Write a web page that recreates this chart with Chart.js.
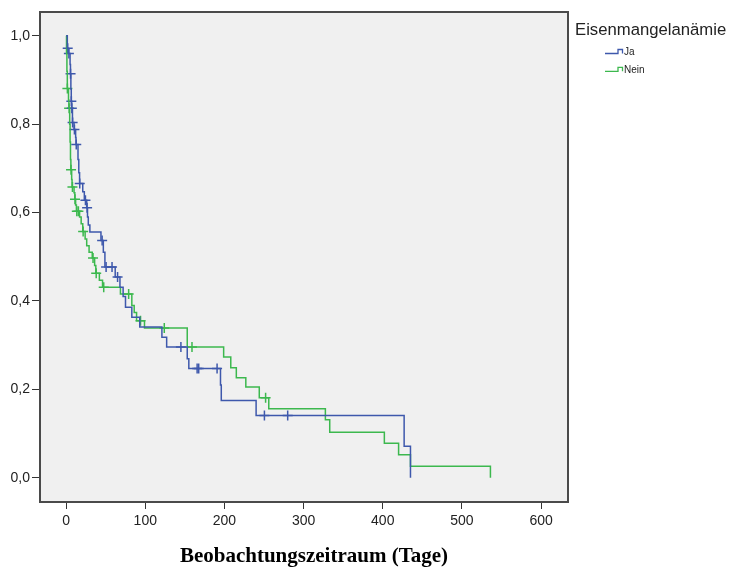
<!DOCTYPE html>
<html>
<head>
<meta charset="utf-8">
<script src="https://cdn.jsdelivr.net/npm/chart.js@4.4.0/dist/chart.umd.min.js"></script>
<style>
html, body { margin:0; padding:0; background:#fff; }
#chart { display:block; }
</style>
</head>
<body>
<canvas id="chart" width="729" height="571"></canvas>
<script>
// Kaplan-Meier Werte
const jaTime = [0, 1.5, 3, 5, 5.5, 6, 6.5, 7, 8, 10, 12, 12.5, 15, 16, 17, 21, 23, 26, 27, 28, 30, 44, 47, 49, 62, 68, 72, 75, 83, 93, 121, 127, 153, 155, 195, 196, 240, 427, 435];
const jaSurv = [1.0, 0.972, 0.96, 0.935, 0.914, 0.88, 0.852, 0.836, 0.804, 0.788, 0.77, 0.754, 0.72, 0.69, 0.666, 0.647, 0.628, 0.611, 0.59, 0.572, 0.556, 0.537, 0.51, 0.477, 0.454, 0.431, 0.41, 0.386, 0.363, 0.341, 0.318, 0.296, 0.269, 0.247, 0.21, 0.175, 0.141, 0.071, 0.0];
const jaCensTime = [2, 3.5, 5.6, 6.6, 7.2, 8.2, 10.5, 12.8, 17.2, 24.4, 26.5, 45.5, 50.5, 58, 65, 145, 165.5, 167.5, 190.7, 250.5, 279.9];
const jaCensSurv = [0.972, 0.96, 0.914, 0.852, 0.836, 0.804, 0.788, 0.754, 0.666, 0.628, 0.611, 0.537, 0.477, 0.477, 0.454, 0.296, 0.247, 0.247, 0.247, 0.141, 0.141];

const neinTime = [0, 0.5, 1, 1.5, 3, 3.5, 4.5, 5, 5.5, 6, 7, 7.5, 10, 11, 12, 13, 17, 19, 21, 24, 26, 29, 33, 36, 37.5, 42, 46, 68.6, 83, 86, 89, 99, 153, 199, 208, 215, 227, 244, 256, 327.5, 333, 402, 420, 435, 536];
const neinSurv = [1.0, 0.96, 0.92, 0.881, 0.855, 0.836, 0.8, 0.76, 0.72, 0.697, 0.675, 0.658, 0.645, 0.63, 0.617, 0.603, 0.59, 0.575, 0.557, 0.54, 0.525, 0.51, 0.497, 0.48, 0.463, 0.447, 0.431, 0.416, 0.39, 0.374, 0.355, 0.339, 0.296, 0.273, 0.249, 0.226, 0.205, 0.181, 0.156, 0.131, 0.103, 0.078, 0.052, 0.026, 0.0];
const neinCensTime = [1.6, 3.8, 6.2, 8, 11.2, 13.5, 15.5, 21.5, 34, 38, 47.5, 79, 94, 124, 159, 252];
const neinCensSurv = [0.881, 0.836, 0.697, 0.658, 0.63, 0.603, 0.603, 0.557, 0.497, 0.463, 0.431, 0.416, 0.355, 0.339, 0.296, 0.181];

const xTicks = [0, 100, 200, 300, 400, 500, 600];
const yTicks = [0, 0.2, 0.4, 0.6, 0.8, 1.0];
const groupNames = ['Ja', 'Nein'];
const legendTitle = 'Eisenmangelanämie';
const xTitle = 'Beobachtungszeitraum (Tage)';

const jaColor = '#3e58ac';
const neinColor = '#3cb84e';

function toPoints(xs, ys) {
  return xs.map((x, i) => ({x: x, y: ys[i]}));
}

const framePlugin = {
  id: 'frame',
  beforeDraw(chart) {
    const a = chart.chartArea, ctx = chart.ctx;
    ctx.save();
    ctx.fillStyle = '#f0f0f0';
    ctx.fillRect(a.left, a.top, a.right - a.left, a.bottom - a.top);
    ctx.restore();
  },
  afterDraw(chart) {
    const a = chart.chartArea, ctx = chart.ctx;
    ctx.save();
    ctx.strokeStyle = '#4a4a4a';
    ctx.lineWidth = 2;
    ctx.strokeRect(a.left, a.top, a.right - a.left, a.bottom - a.top);

    // x axis title
    ctx.fillStyle = '#000';
    ctx.font = 'bold 21px "Liberation Serif"';
    ctx.textAlign = 'center';
    ctx.textBaseline = 'middle';
    ctx.fillText(xTitle, 314, 557);

    // legend
    ctx.textAlign = 'left';
    ctx.fillStyle = '#222';
    ctx.font = '16.7px "Liberation Sans"';
    ctx.fillText(legendTitle, 575, 30.5);
    const cols = [jaColor, neinColor];
    ctx.font = '10px "Liberation Sans"';
    groupNames.forEach((name, i) => {
      const y = 51.5 + i * 17.8;
      ctx.strokeStyle = cols[i];
      ctx.lineWidth = 1.3;
      ctx.beginPath();
      ctx.moveTo(605, y + 2);
      ctx.lineTo(618, y + 2);
      ctx.lineTo(618, y - 2);
      ctx.lineTo(622.5, y - 2);
      ctx.lineTo(622.5, y + 2);
      ctx.stroke();
      ctx.fillStyle = '#222';
      ctx.fillText(name, 624, y + 0.5);
    });
    ctx.restore();
  }
};

const tickFont = {family: 'Liberation Sans', size: 14};

new Chart(document.getElementById('chart'), {
  type: 'line',
  data: {
    datasets: [
      {
        label: groupNames[0],
        data: toPoints(jaTime, jaSurv),
        stepped: true,
        borderColor: jaColor,
        borderWidth: 1.5,
        pointRadius: 0,
        fill: false
      },
      {
        label: groupNames[1],
        data: toPoints(neinTime, neinSurv),
        stepped: true,
        borderColor: neinColor,
        borderWidth: 1.5,
        pointRadius: 0,
        fill: false
      },
      {
        label: groupNames[0] + ' zensiert',
        data: toPoints(jaCensTime, jaCensSurv),
        showLine: false,
        pointStyle: 'cross',
        pointRadius: 5,
        pointBorderWidth: 1.5,
        pointBorderColor: jaColor,
        pointBackgroundColor: jaColor
      },
      {
        label: groupNames[1] + ' zensiert',
        data: toPoints(neinCensTime, neinCensSurv),
        showLine: false,
        pointStyle: 'cross',
        pointRadius: 5,
        pointBorderWidth: 1.5,
        pointBorderColor: neinColor,
        pointBackgroundColor: neinColor
      }
    ]
  },
  options: {
    responsive: false,
    animation: false,
    devicePixelRatio: 1,
    layout: { padding: {left: 0, top: 12, right: 161, bottom: 0} },
    plugins: {
      legend: { display: false },
      tooltip: { enabled: false }
    },
    scales: {
      x: {
        type: 'linear',
        min: -33,
        max: 634,
        afterFit(s) { s.height = 69; },
        afterBuildTicks(s) { s.ticks = xTicks.map(v => ({value: v})); },
        ticks: { autoSkip: false, maxRotation: 0, padding: 4, color: '#222', font: tickFont },
        grid: { drawOnChartArea: false, drawTicks: true, tickLength: 7, color: '#333' },
        border: { display: false }
      },
      y: {
        type: 'linear',
        min: -0.055,
        max: 1.054,
        afterFit(s) { s.width = 40; },
        afterBuildTicks(s) { s.ticks = yTicks.map(v => ({value: v})); },
        ticks: {
          autoSkip: false,
          padding: 2,
          color: '#222',
          font: tickFont,
          callback: v => v.toFixed(1).replace('.', ',')
        },
        grid: { drawOnChartArea: false, drawTicks: true, tickLength: 8, color: '#333' },
        border: { display: false }
      }
    }
  },
  plugins: [framePlugin]
});
</script>
</body>
</html>
